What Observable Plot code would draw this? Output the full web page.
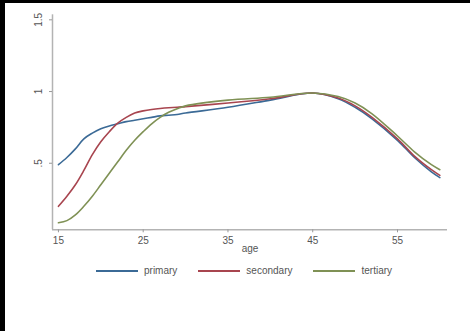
<!DOCTYPE html>
<html>
<head>
<meta charset="utf-8">
<script src="https://cdn.jsdelivr.net/npm/d3@7"></script>
<script src="https://cdn.jsdelivr.net/npm/@observablehq/plot@0.6"></script>
<style>
  html, body { margin: 0; padding: 0; background: #fff; }
  #root { position: relative; width: 470px; height: 331px; overflow: hidden; background: #fff;
          font-family: "Liberation Sans", Arial, sans-serif; }
  #chart { position: absolute; left: 0; top: 0; }
  #legend { position: absolute; left: 96px; top: 265px; display: flex; align-items: center;
            font-size: 10px; color: #555; }
  .item { display: flex; align-items: center; margin-right: 21px; }
  .sw { width: 42px; height: 2px; margin-right: 6px; }
  .bl { position: absolute; background: #000; }
</style>
</head>
<body>
<div id="root">
  <div id="chart"></div>
  <div id="legend"></div>
  <div class="bl" style="left:0;top:0;width:5px;height:331px"></div>
  <div class="bl" style="left:0;top:0;width:470px;height:3px"></div>
</div>
<script>
const ages      = [15, 16, 17, 18, 19, 20, 21, 22, 23, 24, 25, 26, 27, 28, 29, 30, 35, 40, 45, 48, 50, 52, 55, 57, 59, 60];
const primary   = [0.49, 0.54, 0.60, 0.67, 0.71, 0.74, 0.76, 0.775, 0.79, 0.80, 0.81, 0.82, 0.83, 0.835, 0.84, 0.85, 0.89, 0.94, 0.99, 0.95, 0.89, 0.81, 0.66, 0.54, 0.44, 0.40];
const secondary = [0.20, 0.27, 0.35, 0.45, 0.56, 0.65, 0.72, 0.78, 0.82, 0.85, 0.865, 0.875, 0.882, 0.887, 0.89, 0.895, 0.92, 0.95, 0.99, 0.955, 0.90, 0.82, 0.67, 0.55, 0.455, 0.415];
const tertiary  = [0.085, 0.10, 0.14, 0.20, 0.27, 0.35, 0.43, 0.51, 0.59, 0.66, 0.72, 0.775, 0.82, 0.855, 0.88, 0.90, 0.94, 0.96, 0.99, 0.965, 0.92, 0.845, 0.69, 0.58, 0.49, 0.455];
const seriesNames  = ["primary", "secondary", "tertiary"];
const seriesColors = ["#3b6a96", "#a8454f", "#7f9155"];
const xTicks = [15, 25, 35, 45, 55];
const yTicks = [0.5, 1, 1.5];
const yTickLabels = [".5", "1", "1.5"];

const seriesValues = [primary, secondary, tertiary];
const data = [];
seriesNames.forEach((s, i) => ages.forEach((a, j) => data.push({age: a, value: seriesValues[i][j], series: s})));

const xDomain = [14.3, 60.9];
const yDomain = [0.036, 1.535];

const chart = Plot.plot({
  width: 470,
  height: 262,
  marginLeft: 52,
  marginRight: 23,
  marginTop: 14.3,
  marginBottom: 32.7,
  style: {fontFamily: "Liberation Sans, Arial, sans-serif", fontSize: "10px", color: "#555", background: "transparent"},
  x: {domain: xDomain},
  y: {domain: yDomain},
  color: {domain: seriesNames, range: seriesColors},
  marks: [
    Plot.ruleY([yDomain[0]], {stroke: "#b3b3b3", strokeWidth: 1.5}),
    Plot.ruleX([xDomain[0]], {stroke: "#b3b3b3", strokeWidth: 1.5}),
    Plot.axisX({ticks: xTicks, tickSize: 3, tickPadding: 4, stroke: "#999", color: "#555",
                label: "age", labelAnchor: "center", labelOffset: 22, labelArrow: "none"}),
    Plot.axisY({ticks: yTicks, tickSize: 3, tickPadding: 8, tickRotate: -90, stroke: "#999", color: "#555",
                tickFormat: d => yTickLabels[yTicks.indexOf(d)], label: null}),
    Plot.line(data, {x: "age", y: "value", z: "series", stroke: "series", strokeWidth: 1.6, curve: "catmull-rom"})
  ]
});
document.getElementById("chart").appendChild(chart);

const legend = document.getElementById("legend");
seriesNames.forEach((s, i) => {
  const it = document.createElement("div");
  it.className = "item";
  const sw = document.createElement("div");
  sw.className = "sw";
  sw.style.background = seriesColors[i];
  const t = document.createElement("span");
  t.textContent = s;
  it.appendChild(sw); it.appendChild(t);
  legend.appendChild(it);
});
</script>
</body>
</html>
